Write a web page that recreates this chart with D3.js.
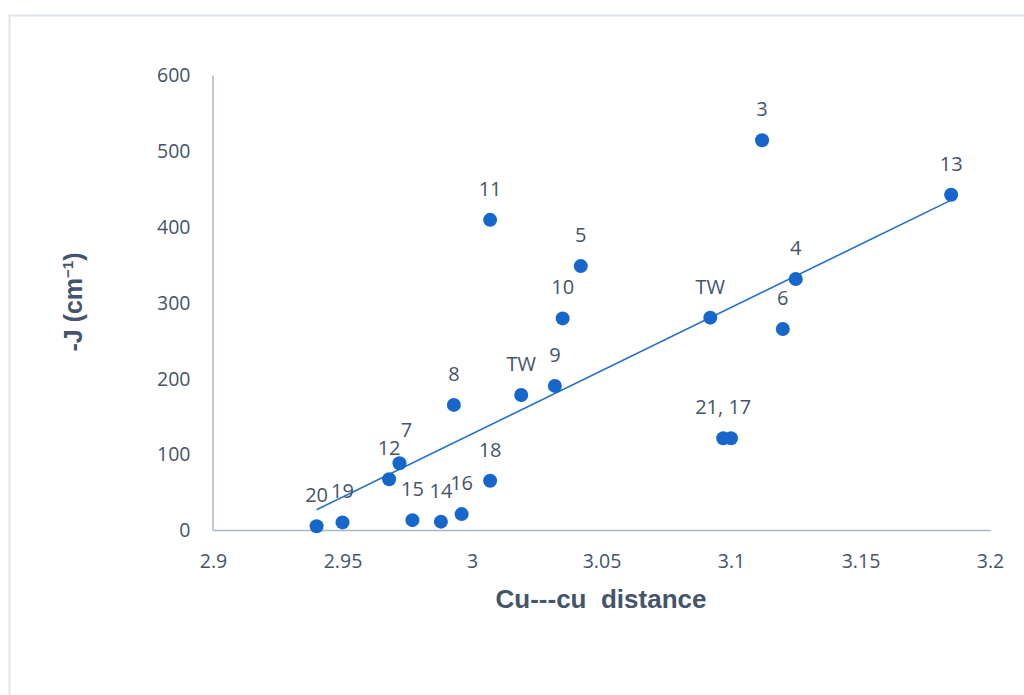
<!DOCTYPE html>
<html>
<head>
<meta charset="utf-8">
<script src="https://cdn.jsdelivr.net/npm/d3@7/dist/d3.min.js"></script>
<style>
  html, body { margin: 0; padding: 0; background: #ffffff; }
  svg { display: block; }
</style>
</head>
<body>
<svg id="chart" width="1024" height="695"></svg>
<script>
// ---- data ----
const labels = ["20", "19", "12", "7", "15", "14", "16", "18", "8", "11", "TW", "9", "10", "5", "TW", "21, 17", "", "3", "6", "4", "13"];
const distance = [2.940, 2.950, 2.968, 2.972, 2.977, 2.988, 2.996, 3.007, 2.993, 3.007, 3.019, 3.032, 3.035, 3.042, 3.092, 3.097, 3.100, 3.112, 3.120, 3.125, 3.185];
const minusJ = [5, 10, 67, 88, 13, 11, 21, 65, 165, 409, 178, 190, 279, 348, 280, 121, 121, 514, 265, 331, 442];
const xTicks = [2.9, 2.95, 3, 3.05, 3.1, 3.15, 3.2];
const yTicks = [0, 100, 200, 300, 400, 500, 600];

const svg = d3.select("#chart");
const textColor = "#44546a";
const axisColor = "#a8b5c6";
const markColor = "#1766cc";

// chart border
svg.append("rect")
  .attr("x", 9.5).attr("y", 15.5)
  .attr("width", 1100).attr("height", 800)
  .attr("fill", "none").attr("stroke", "#dde4eb").attr("stroke-width", 2);

const x = d3.scaleLinear().domain([2.9, 3.2]).range([213, 990]);
const y = d3.scaleLinear().domain([0, 600]).range([530, 75]);

// axes
const xAxis = d3.axisBottom(x).tickValues(xTicks).tickSize(0).tickFormat(d3.format("~g"));
const gx = svg.append("g").attr("transform", `translate(0,${y(0)})`).call(xAxis);
gx.attr("font-size", null).attr("font-family", null);
gx.select(".domain").attr("stroke", axisColor).attr("stroke-width", 1.5);
gx.selectAll("text")
  .style("font-family", "'Open Sans', sans-serif").style("font-size", "19.5px")
  .attr("fill", textColor).attr("dy", null).attr("y", 38);

const yAxis = d3.axisLeft(y).tickValues(yTicks).tickSize(0);
const gy = svg.append("g").attr("transform", `translate(${x(2.9) - 0.5},0)`).call(yAxis);
gy.attr("font-size", null).attr("font-family", null);
gy.select(".domain").attr("stroke", axisColor).attr("stroke-width", 1.5);
gy.selectAll("text")
  .style("font-family", "'Open Sans', sans-serif").style("font-size", "19.5px")
  .attr("fill", textColor).attr("x", -22).attr("dy", "0.35em");

// trendline (least squares over all points)
const n = distance.length;
const mx = d3.mean(distance), my = d3.mean(minusJ);
let sxy = 0, sxx = 0;
for (let i = 0; i < n; i++) {
  sxy += (distance[i] - mx) * (minusJ[i] - my);
  sxx += (distance[i] - mx) ** 2;
}
const slope = sxy / sxx, intercept = my - slope * mx;
const [x0, x1] = d3.extent(distance);
svg.append("line")
  .attr("x1", x(x0)).attr("y1", y(slope * x0 + intercept))
  .attr("x2", x(x1)).attr("y2", y(slope * x1 + intercept))
  .attr("stroke", "#1f6fc8").attr("stroke-width", 1.6);

// points
const pts = distance.map((d, i) => ({ x: d, y: minusJ[i], label: labels[i] }));
svg.append("g").selectAll("circle").data(pts).join("circle")
  .attr("cx", d => x(d.x)).attr("cy", d => y(d.y)).attr("r", 7)
  .attr("fill", markColor);

// data labels (label "7" nudged slightly so it does not collide with "12")
svg.append("g").selectAll("text").data(pts.filter(d => d.label)).join("text")
  .attr("x", d => x(d.x) + (d.label === "7" ? 7 : 0))
  .attr("y", d => y(d.y) - 24 - (d.label === "7" ? 2 : 0))
  .attr("text-anchor", "middle")
  .style("font-family", "'Open Sans', sans-serif").style("font-size", "20px")
  .attr("fill", textColor)
  .text(d => d.label);

// axis titles
svg.append("text")
  .attr("x", 601).attr("y", 608)
  .attr("text-anchor", "middle")
  .style("font-family", "'Liberation Sans', Arial, sans-serif")
  .style("font-weight", "bold").style("font-size", "26px")
  .style("white-space", "pre")
  .attr("fill", textColor)
  .text("Cu---cu  distance");

const yt = svg.append("text")
  .attr("transform", "translate(82,302) rotate(-90)")
  .attr("text-anchor", "middle")
  .style("font-family", "'Liberation Sans', Arial, sans-serif")
  .style("font-weight", "bold").style("font-size", "25px")
  .attr("fill", textColor);
yt.append("tspan").text("-J (cm");
yt.append("tspan").style("font-size", "15px").attr("dy", -9).text("\u22121");
yt.append("tspan").attr("dy", 9).text(")");
</script>
</body>
</html>
